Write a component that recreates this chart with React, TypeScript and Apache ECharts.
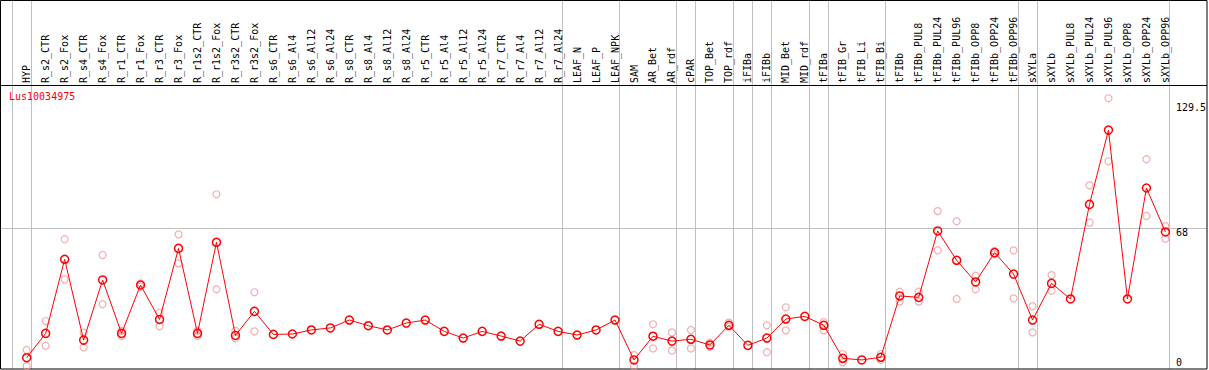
import React, { useEffect, useRef } from "react";
import * as echarts from "echarts";

const categories = [
  "HYP", "R_s2_CTR", "R_s2_Fox", "R_s4_CTR", "R_s4_Fox", "R_r1_CTR", "R_r1_Fox", "R_r3_CTR", "R_r3_Fox",
  "R_r1s2_CTR", "R_r1s2_Fox", "R_r3s2_CTR", "R_r3s2_Fox", "R_s6_CTR", "R_s6_Al4", "R_s6_Al12", "R_s6_Al24",
  "R_s8_CTR", "R_s8_Al4", "R_s8_Al12", "R_s8_Al24", "R_r5_CTR", "R_r5_Al4", "R_r5_Al12", "R_r5_Al24",
  "R_r7_CTR", "R_r7_Al4", "R_r7_Al12", "R_r7_Al24", "LEAF_N", "LEAF_P", "LEAF_NPK", "SAM", "AR_Bet", "AR_rdf",
  "cPAR", "TOP_Bet", "TOP_rdf", "iFIBa", "iFIBb", "MID_Bet", "MID_rdf", "tFIBa", "tFIB_Gr", "tFIB_Li", "tFIB_Bi",
  "tFIBb", "tFIBb_PUL8", "tFIBb_PUL24", "tFIBb_PUL96", "tFIBb_OPP8", "tFIBb_OPP24", "tFIBb_OPP96",
  "sXYLa", "sXYLb", "sXYLb_PUL8", "sXYLb_PUL24", "sXYLb_PUL96", "sXYLb_OPP8", "sXYLb_OPP24", "sXYLb_OPP96",
];

const means = [
  4.1, 16.1, 52.7, 12.8, 42.5, 16.1, 40.0, 23.0, 58.1,
  16.1, 61.1, 15.1, 27.0, 15.6, 15.8, 17.8, 18.8,
  22.7, 19.9, 17.8, 21.2, 22.7, 17.1, 13.8, 17.1,
  14.8, 12.3, 20.6, 17.1, 15.3, 17.8, 22.7, 3.0, 14.7, 12.3,
  13.2, 10.4, 20.1, 10.2, 13.8, 23.2, 24.5, 20.1, 3.8, 3.0, 4.3,
  34.6, 33.9, 66.7, 52.2, 41.5, 56.0, 45.4,
  22.7, 40.8, 33.1, 79.8, 116.5, 33.1, 87.9, 66.2,
];

const replicateA = [
  7.9, 22.2, 62.6, 16.5, 54.8, 17.4, 40.8, 26.3, 65.0,
  17.4, 84.8, 17.4, 36.4, null, null, null, null,
  null, null, null, null, null, null, null, null,
  null, null, null, null, null, null, null, 5.4, 20.6, 16.6,
  17.8, 11.5, 21.4, null, 20.1, 29.0, null, 21.7, 5.9, null, 5.9,
  36.7, 36.7, 76.5, 71.5, 44.6, 56.8, 57.1,
  29.5, 44.9, null, 89.2, 132.2, null, 102.1, 69.1,
];

const replicateB = [
  0, 10.0, 42.8, 9.2, 30.5, 14.8, 39.2, 19.6, 50.7,
  14.8, 37.9, 13.7, 17.1, null, null, null, null,
  null, null, null, null, null, null, null, null,
  null, null, null, null, null, null, null, 0, 8.7, 7.7,
  8.7, 9.5, 19.4, null, 6.8, 17.6, null, 17.6, 1.8, null, 3.0,
  31.8, 31.8, 57.1, 33.1, 37.9, 55.2, 33.4,
  16.6, 37.2, null, 70.8, 101.1, null, 74.1, 62.9,
];

const yTickValues = [0, 68, 129.5];
const gridLineValue = 68;
// group separators are drawn just after these category indices (-1 = before the first)
const separatorAfter = [-1, 0, 28, 31, 34, 35, 37, 38, 39, 41, 42, 45, 52, 53, 60];

const MONO = "'DejaVu Sans Mono', 'Liberation Mono', monospace";

export default function App() {
  const ref = useRef<HTMLDivElement>(null);

  useEffect(() => {
    document.body.style.margin = "0";
    if (!ref.current) return;
    const chart = echarts.init(ref.current, undefined, { renderer: "svg" });

    const band = 19;
    const gridLeft = 17.2;
    const gridTop = 86;
    const gridHeight = 283;
    const W = 1209;

    const reps: [number, number][] = [];
    [replicateA, replicateB].forEach((arr) => {
      arr.forEach((v, i) => {
        if (v !== null && v !== undefined) reps.push([i, v as number]);
      });
    });

    chart.setOption({
      animation: false,
      title: {
        text: "Lus10034975",
        left: 9,
        top: 91,
        padding: 0,
        textStyle: { color: "#ff0000", fontFamily: MONO, fontSize: 10, fontWeight: "normal" },
      },
      grid: {
        left: gridLeft,
        top: gridTop,
        width: categories.length * band,
        height: gridHeight,
        containLabel: false,
      },
      xAxis: {
        type: "category",
        data: categories,
        position: "top",
        boundaryGap: true,
        axisLine: { show: false },
        axisTick: { show: false },
        splitLine: { show: false },
        axisLabel: {
          interval: 0,
          rotate: 90,
          margin: 3,
          color: "#000",
          fontFamily: MONO,
          fontSize: 10,
        },
      },
      yAxis: {
        type: "value",
        position: "right",
        min: -1.48,
        max: 138.27,
        axisLine: { show: false },
        axisTick: { show: false },
        splitLine: { show: false },
        axisLabel: {
          customValues: yTickValues,
          margin: 1,
          align: "left",
          formatter: (v: number) => (v === 0 ? `{b|${v}}` : `{t|${v}}`),
          rich: {
            t: { padding: [8, 0, 0, 0], fontFamily: MONO, fontSize: 10, color: "#000" },
            b: { padding: [0, 0, 8, 0], fontFamily: MONO, fontSize: 10, color: "#000" },
          },
        },
      },
      series: [
        {
          type: "scatter",
          data: reps,
          symbol: "circle",
          symbolSize: 7,
          itemStyle: { color: "rgba(0,0,0,0)", borderColor: "#f09898", borderWidth: 1.2 },
          z: 2,
        },
        {
          type: "line",
          data: means,
          symbol: "circle",
          symbolSize: 8,
          showAllSymbol: true,
          lineStyle: { color: "#ff0000", width: 1 },
          itemStyle: { color: "rgba(0,0,0,0)", borderColor: "#ff0000", borderWidth: 1.5 },
          z: 3,
        },
      ],
    });

    const x0 = chart.convertToPixel({ xAxisIndex: 0 }, 0) as number;
    const x1 = chart.convertToPixel({ xAxisIndex: 0 }, 1) as number;
    const step = x1 - x0;
    const yLine = Math.round(chart.convertToPixel({ yAxisIndex: 0 }, gridLineValue) as number) + 0.5;
    const bottom = gridTop + gridHeight;

    const graphics: any[] = separatorAfter.map((idx) => {
      const px = Math.round(x0 + idx * step + 4) + 0.5;
      return {
        type: "line",
        shape: { x1: px, y1: 0, x2: px, y2: bottom },
        style: { stroke: "#c0c0c0", lineWidth: 1 },
        z: 0,
        silent: true,
      };
    });
    graphics.push({
      type: "line",
      shape: { x1: 0, y1: yLine, x2: W - 2, y2: yLine },
      style: { stroke: "#c0c0c0", lineWidth: 1 },
      z: 0,
      silent: true,
    });
    graphics.push({
      type: "line",
      shape: { x1: 0, y1: gridTop - 0.5, x2: W - 2, y2: gridTop - 0.5 },
      style: { stroke: "#000", lineWidth: 1 },
      z: 1,
      silent: true,
    });
    graphics.push({
      type: "rect",
      shape: { x: 0.5, y: 0.5, width: W - 2.5, height: bottom - 0.5 },
      style: { fill: "none", stroke: "#000", lineWidth: 1 },
      z: 1,
      silent: true,
    });

    chart.setOption({ graphic: graphics });

    return () => chart.dispose();
  }, []);

  return <div ref={ref} style={{ width: 1209, height: 370 }} />;
}
